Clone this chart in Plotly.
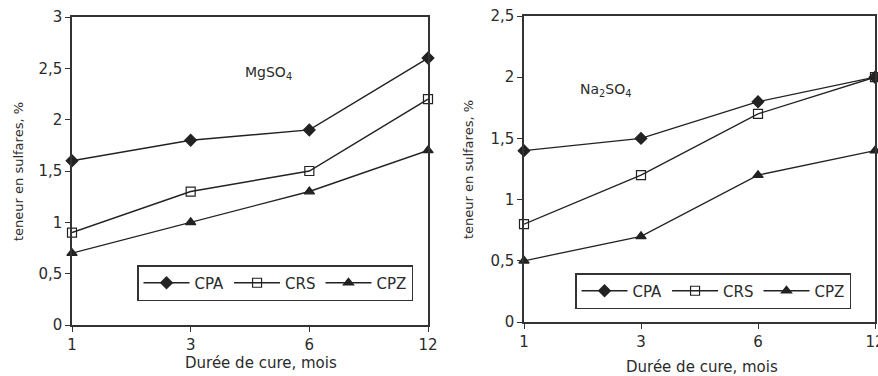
import plotly.graph_objects as go

months = ["1", "3", "6", "12"]
series = ["CPA", "CRS", "CPZ"]
mg_cpa = [1.6, 1.8, 1.9, 2.6]
mg_crs = [0.9, 1.3, 1.5, 2.2]
mg_cpz = [0.7, 1.0, 1.3, 1.7]
na_cpa = [1.4, 1.5, 1.8, 2.0]
na_crs = [0.8, 1.2, 1.7, 2.0]
na_cpz = [0.5, 0.7, 1.2, 1.4]
y_left_ticks = [0, 0.5, 1, 1.5, 2, 2.5, 3]
y_left_text = ["0", "0,5", "1", "1,5", "2", "2,5", "3"]
y_right_ticks = [0, 0.5, 1, 1.5, 2, 2.5]
y_right_text = ["0", "0,5", "1", "1,5", "2", "2,5"]
x_title = "Durée de cure, mois"
y_title = "teneur en sulfares, %"

FONT = "DejaVu Sans, Verdana, sans-serif"
TXT = "#2b2b2b"
symbols = {"CPA": "diamond", "CRS": "square-open", "CPZ": "triangle-up"}
sizes = {"CPA": 9, "CRS": 9, "CPZ": 9}
xi = list(range(len(months)))

fig = go.Figure()
for name, vals in zip(series, [mg_cpa, mg_crs, mg_cpz]):
    fig.add_trace(go.Scatter(x=xi, y=vals, name=name, mode="lines+markers",
                             xaxis="x", yaxis="y", legend="legend",
                             line=dict(color="#222", width=1.4),
                             marker=dict(symbol=symbols[name], size=sizes[name], color="#222",
                                         line=dict(color="#222", width=1.2)),
                             cliponaxis=False))
for name, vals in zip(series, [na_cpa, na_crs, na_cpz]):
    fig.add_trace(go.Scatter(x=xi, y=vals, name=name, mode="lines+markers",
                             xaxis="x2", yaxis="y2", legend="legend2",
                             line=dict(color="#222", width=1.3),
                             marker=dict(symbol=symbols[name], size=sizes[name], color="#222",
                                         line=dict(color="#222", width=1.2)),
                             cliponaxis=False))

axis_common = dict(showline=True, linecolor="#333", linewidth=1.5, mirror=True,
                   showgrid=False, zeroline=False, ticks="outside", ticklen=5,
                   tickcolor="#333", tickfont=dict(size=15, color=TXT, family=FONT),
                   automargin=False, ticklabeloverflow="allow")

leg_common = dict(orientation="h", xanchor="left", yanchor="top",
                  bordercolor="#333", borderwidth=1.5, bgcolor="white",
                  font=dict(size=15, color=TXT, family=FONT), itemwidth=46,
                  tracegroupgap=0)

def ann(text, x, y, size, angle=0):
    return dict(text=text, x=x/878, y=(376-y)/376, xref="paper", yref="paper",
                xanchor="center", yanchor="middle", textangle=angle,
                showarrow=False, font=dict(size=size, color=TXT, family=FONT))

fig.update_layout(
    width=878, height=376, margin=dict(l=0, r=0, t=0, b=0),
    paper_bgcolor="white", plot_bgcolor="white",
    font=dict(family=FONT, color=TXT),
    showlegend=True,
    xaxis=dict(domain=[72/878, 428/878], range=[0, 3], tickvals=xi, ticktext=months,
               anchor="y", **axis_common),
    yaxis=dict(domain=[51/376, 359/376], range=[0, 3], tickvals=y_left_ticks, ticktext=y_left_text,
               anchor="x", **axis_common),
    xaxis2=dict(domain=[524/878, 875/878], range=[0, 3], tickvals=xi, ticktext=months,
                anchor="y2", **axis_common),
    yaxis2=dict(domain=[54/376, 360/376], range=[0, 2.5], tickvals=y_right_ticks, ticktext=y_right_text,
                anchor="x2", **axis_common),
    legend=dict(x=137/878, y=(376-265)/376, **leg_common),
    legend2=dict(x=575/878, y=(376-273)/376, **leg_common),
    annotations=[
        ann("MgSO<sub>4</sub>", 268, 73, 14),
        ann("Na<sub>2</sub>SO<sub>4</sub>", 605, 90, 14),
        ann(x_title, 261, 363, 15),
        ann(x_title, 702, 367, 15),
        ann(y_title, 18, 172, 13, -90),
        ann(y_title, 468, 170, 13, -90),
    ],
)

fig.write_html("out.html")
